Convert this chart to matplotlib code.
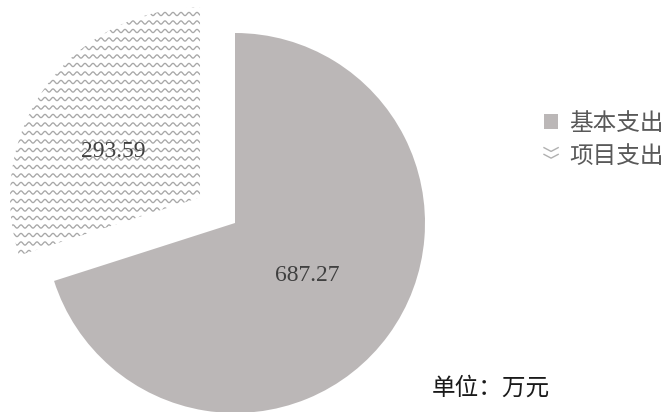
import numpy as np
import matplotlib
matplotlib.use("Agg")
import matplotlib.pyplot as plt
from matplotlib.legend_handler import HandlerBase
from matplotlib.patches import Rectangle
from matplotlib.lines import Line2D

categories = ["基本支出", "项目支出"]
values = [687.27, 293.59]
unit_note = "单位：万元"

main_color = "#bbb7b7"
wave_color = "#a8a8a8"

plt.rcParams['font.family'] = ['Noto Sans CJK SC', 'DejaVu Sans']

W, H = 665, 412
fig = plt.figure(figsize=(W / 100, H / 100), dpi=100)
ax = fig.add_axes([0, 0, 1, 1])

total = sum(values)
wedges, texts, autotexts = ax.pie(
    values, startangle=90, counterclock=False,
    explode=[0, 0.228], colors=[main_color, "white"],
    wedgeprops=dict(linewidth=0),
    autopct=lambda p: f"{p * total / 100:.2f}", pctdistance=0.47,
    textprops=dict(family=['Liberation Serif'], fontsize=17, color="#404040"))

# scale: 190 px per data unit, pie centre at pixel (235, 223 from top)
s = 190.0
cx, cy = 235, 223
ax.set_xlim(-cx / s, (W - cx) / s)
ax.set_ylim(-(H - cy) / s, cy / s)
ax.set_aspect('equal')
ax.axis('off')

# nudge the exploded slice's label (as in the reference)
x1, y1 = autotexts[1].get_position()
autotexts[1].set_position((x1 - 15 / s, y1 - 7 / s))

# wave pattern clipped to the second wedge
period = 8 / s
amp = 1.6 / s
spacing = 8.5 / s
xs = np.arange(-1.4, 0.2, 0.5 / s)
for y0 in np.arange(-0.6, 1.3, spacing):
    ln, = ax.plot(xs, y0 + amp * np.sin(2 * np.pi * xs / period),
                  color=wave_color, lw=0.95, solid_capstyle='butt', zorder=3)
    ln.set_clip_path(wedges[1])
for t in autotexts:
    t.set_zorder(5)


class WaveHandler(HandlerBase):
    def create_artists(self, legend, orig_handle, xdescent, ydescent,
                       width, height, fontsize, trans):
        arts = []
        for k in range(2):
            yy = height * (0.25 + 0.45 * k) - ydescent
            xx = np.array([0, width / 2, width]) - xdescent
            arts.append(Line2D(xx, [yy + height * 0.25, yy, yy + height * 0.25],
                               color="#b0b0b0", lw=1.0, transform=trans))
        return arts


h1 = Rectangle((0, 0), 1, 1, facecolor=main_color, edgecolor='none')
h2 = object()
leg = ax.legend([h1, h2], categories, loc='center left',
                bbox_to_anchor=(544 / W, 1 - 140 / H), bbox_transform=fig.transFigure,
                frameon=False, fontsize=17, handlelength=0.6, handleheight=0.6,
                handletextpad=0.45, labelspacing=0.4, borderpad=0, borderaxespad=0,
                labelcolor="#595959", handler_map={h2: WaveHandler()})

fig.text(432 / W, 1 - 388 / H, unit_note, fontsize=17, color="#1a1a1a",
         va='center', ha='left')

fig.savefig("out.png", dpi=100)
